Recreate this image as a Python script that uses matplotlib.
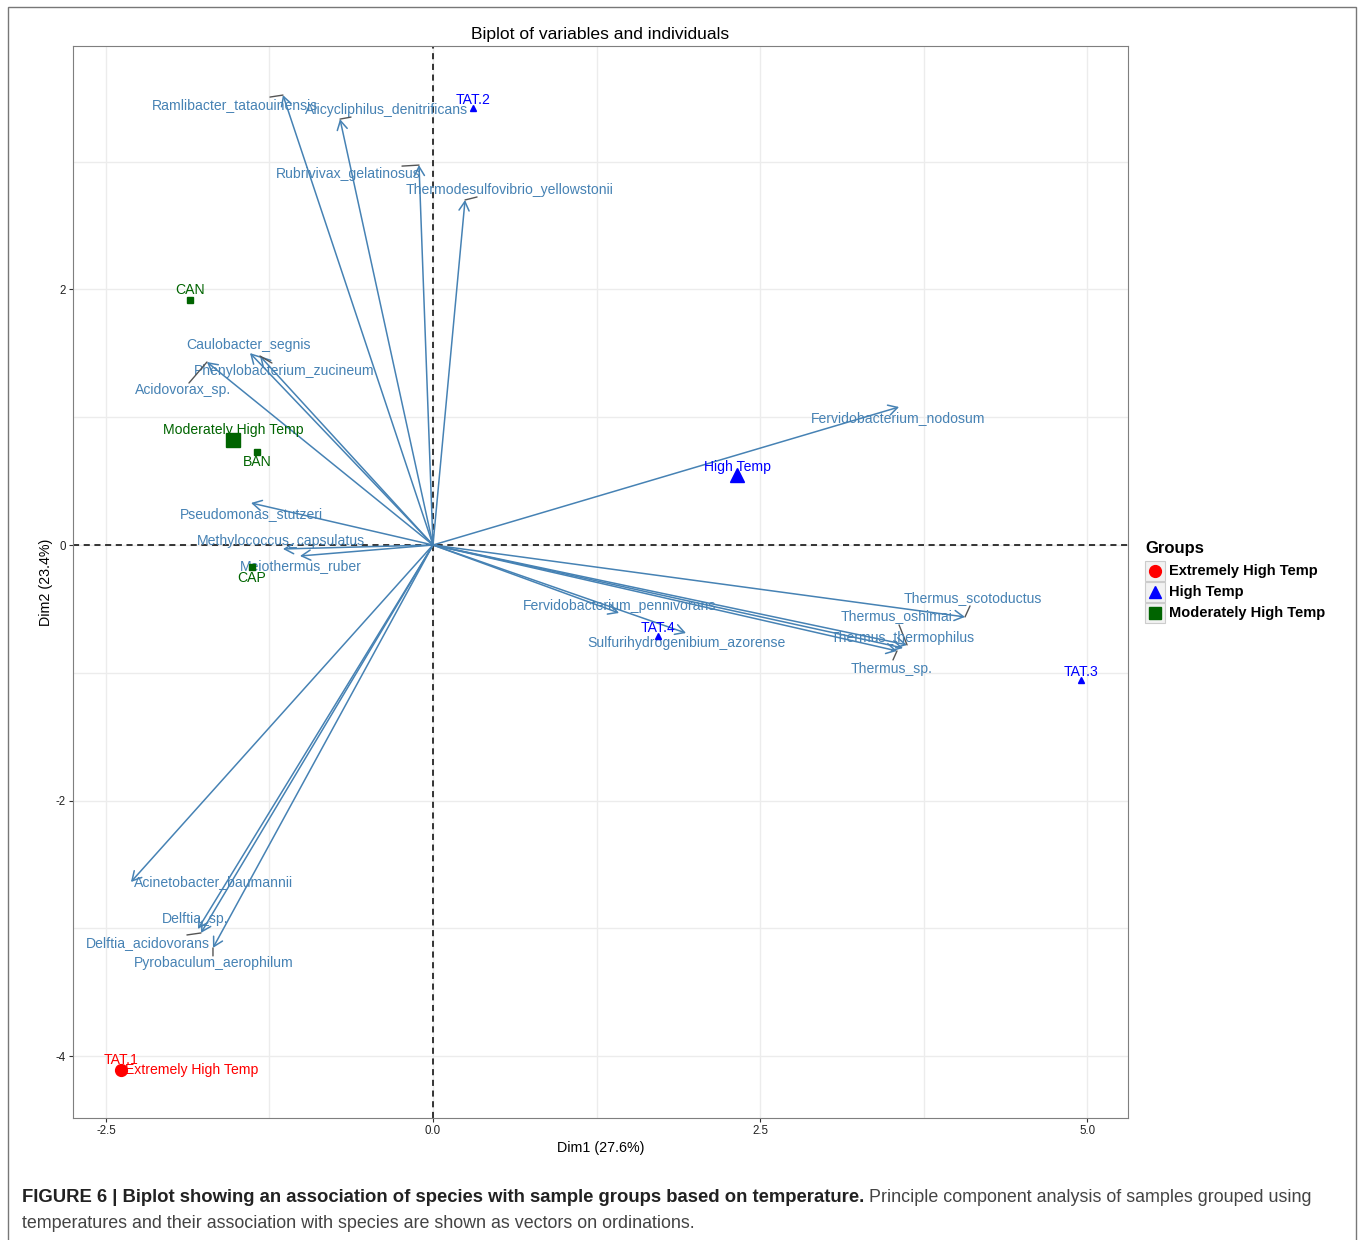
import matplotlib.pyplot as plt
import numpy as np
from matplotlib.patches import Rectangle
from matplotlib.lines import Line2D

plt.rcParams['font.family'] = ['Liberation Sans', 'DejaVu Sans']
plt.rcParams['axes.unicode_minus'] = False

# variable loadings (arrow tips)
var_names = ['Ramlibacter_tataouinensis', 'Alicycliphilus_denitrificans',
             'Rubrivivax_gelatinosus', 'Thermodesulfovibrio_yellowstonii',
             'Caulobacter_segnis', 'Phenylobacterium_zucineum', 'Acidovorax_sp.',
             'Pseudomonas_stutzeri', 'Methylococcus_capsulatus', 'Meiothermus_ruber',
             'Fervidobacterium_nodosum', 'Thermus_scotoductus', 'Thermus_oshimai',
             'Thermus_thermophilus', 'Thermus_sp.', 'Fervidobacterium_pennivorans',
             'Sulfurihydrogenibium_azorense', 'Acinetobacter_baumannii',
             'Delftia_sp.', 'Delftia_acidovorans', 'Pyrobaculum_aerophilum']
var_x = [-1.147, -0.711, -0.107, 0.245, -1.399, -1.323, -1.728, -1.391, -1.147,
         -1.017, 3.563, 4.067, 3.624, 3.593, 3.547, 1.422, 1.934, -2.309,
         -1.797, -1.774, -1.682]
var_y = [3.521, 3.333, 2.973, 2.700, 1.502, 1.479, 1.432, 0.329, -0.031,
         -0.086, 1.080, -0.563, -0.782, -0.806, -0.829, -0.532, -0.689, -2.637,
         -3.005, -3.036, -3.153]

# individuals
ind_names = ['TAT.1', 'TAT.2', 'TAT.3', 'TAT.4', 'CAN', 'BAN', 'CAP']
ind_x = [-2.385, 0.306, 4.954, 1.720, -1.858, -1.346, -1.384]
ind_y = [-4.108, 3.420, -1.056, -0.712, 1.917, 0.728, -0.172]
ind_group = ['Extremely High Temp', 'High Temp', 'High Temp', 'High Temp',
             'Moderately High Temp', 'Moderately High Temp', 'Moderately High Temp']

groups = ['Extremely High Temp', 'High Temp', 'Moderately High Temp']
group_colors = ['#FF0000', '#0000FF', '#006400']
group_markers = ['o', '^', 's']

# label placement (pixel offsets from the point, y down) and repel segments
var_label_off = [(-48, 10), (47, -9), (-71, 9), (45, -10), (-1, -8), (24, 15),
                 (-24, 28), (0, 11), (-2, -8), (1, 10), (-1, 11), (8, -19),
                 (-10, -29), (0, -10), (-5, 18), (1, -7), (0, 10), (83, 0),
                 (-3, -10), (-53, 10), (1, 15)]
var_seg_off = [(-13, 2), (11, -2), (-17, 1), (12, -3), None, (12, 7),
               (-18, 21), None, None, None, None, (5, -11),
               (-8, -20), None, (-4, 9), None, None, None,
               None, (-14, 2), (0, 8)]
ind_label_off = [(0, -10), (0, -8), (0, -8), (0, -8), (0, -10), (0, 10), (0, 11)]
group_label_off = [(71, 0), (0, -8), (0, -10)]

steel = '#4682B4'
lab_fs = 10.1

fig = plt.figure(figsize=(13.6, 12.4), dpi=100)
ax = fig.add_axes([73 / 1360, 1 - 1118 / 1240, (1128 - 73) / 1360, (1118 - 46) / 1240])

ax.set_xlim(-2.752, 5.313)
ax.set_ylim(-4.484, 3.905)
ax.set_xticks([-2.5, 0, 2.5, 5.0])
ax.set_xticklabels(['-2.5', '0.0', '2.5', '5.0'])
ax.set_yticks([-4, -2, 0, 2])
ax.set_xticks([-1.25, 1.25, 3.75], minor=True)
ax.set_yticks([-3, -1, 1, 3], minor=True)
ax.grid(True, which='both', color='#ECECEC', lw=1.0)
ax.set_axisbelow(True)
ax.tick_params(which='minor', length=0)
ax.tick_params(which='major', length=3, width=0.8, color='#333333',
               labelsize=8.3, labelcolor='#222222', pad=2)
for sp in ax.spines.values():
    sp.set_color('#7F7F7F')
    sp.set_linewidth(0.8)

ax.axhline(0, color='black', ls='--', lw=1.1, dashes=(4, 3), zorder=1)
ax.axvline(0, color='black', ls='--', lw=1.1, dashes=(4, 3), zorder=1)

# variable arrows and labels
for i, name in enumerate(var_names):
    x, y = var_x[i], var_y[i]
    ax.annotate('', xy=(x, y), xytext=(0, 0),
                arrowprops=dict(arrowstyle='->,head_length=0.5,head_width=0.28',
                                color=steel, lw=1.1, shrinkA=0, shrinkB=0,
                                mutation_scale=13), zorder=3)
    dx, dy = var_label_off[i]
    ax.annotate(name, xy=(x, y), xytext=(dx, -dy), textcoords='offset pixels',
                ha='center', va='center', color=steel, fontsize=lab_fs, zorder=4)
    seg = var_seg_off[i]
    if seg is not None:
        ax.annotate('', xy=(x, y), xytext=(seg[0], -seg[1]),
                    textcoords='offset pixels',
                    arrowprops=dict(arrowstyle='-', color='#555555', lw=1.0,
                                    shrinkA=0, shrinkB=0), zorder=4)

# individuals
for i, name in enumerate(ind_names):
    g = groups.index(ind_group[i])
    ax.plot(ind_x[i], ind_y[i], marker=group_markers[g], color=group_colors[g],
            ms=5 if group_markers[g] != 'o' else 4, ls='none', zorder=5)
    dx, dy = ind_label_off[i]
    ax.annotate(name, xy=(ind_x[i], ind_y[i]), xytext=(dx, -dy),
                textcoords='offset pixels', ha='center', va='center',
                color=group_colors[g], fontsize=lab_fs, zorder=6)

# group centroids
for g, grp in enumerate(groups):
    gx = np.mean([ind_x[i] for i in range(len(ind_names)) if ind_group[i] == grp])
    gy = np.mean([ind_y[i] for i in range(len(ind_names)) if ind_group[i] == grp])
    ax.plot(gx, gy, marker=group_markers[g], color=group_colors[g],
            ms=10 if group_markers[g] != 'o' else 8.5, ls='none', zorder=5)
    dx, dy = group_label_off[g]
    ax.annotate(grp, xy=(gx, gy), xytext=(dx, -dy), textcoords='offset pixels',
                ha='center', va='center', color=group_colors[g], fontsize=lab_fs,
                zorder=6)

ax.set_title('Biplot of variables and individuals', fontsize=12.6, pad=5)
ax.set_xlabel('Dim1 (27.6%)', fontsize=10.3, labelpad=3)
ax.set_ylabel('Dim2 (23.4%)', fontsize=10.3, labelpad=2)

# legend drawn in figure pixel space
W, H = 1360, 1240
fig.text(1145 / W, 1 - 548 / H, 'Groups', fontsize=12, fontweight='bold',
         ha='left', va='center')
for g, grp in enumerate(groups):
    yc = 571 + g * 21
    fig.add_artist(Rectangle((1145 / W, 1 - (yc + 10) / H), 20 / W, 20 / H,
                             transform=fig.transFigure, facecolor='#F2F2F2',
                             edgecolor='#CCCCCC', lw=0.8))
    fig.add_artist(Line2D([1155 / W], [1 - yc / H], marker=group_markers[g],
                          color=group_colors[g], ms=9 if g != 0 else 8.5,
                          transform=fig.transFigure))
    fig.text(1169 / W, 1 - yc / H, grp, fontsize=10.5, fontweight='bold',
             ha='left', va='center')

# outer frame and caption
fig.add_artist(Rectangle((8 / W, -0.01), (1356 - 8) / W, 1.01 - 7 / H,
                         transform=fig.transFigure, fill=False,
                         edgecolor='#777777', lw=1.0))
t1 = fig.text(22 / W, 1 - 1197 / H,
              'FIGURE 6 | Biplot showing an association of species with sample '
              'groups based on temperature.',
              fontsize=13.3, fontweight='bold', color='#222222',
              ha='left', va='center')
fig.canvas.draw()
bb = t1.get_window_extent()
fig.text(bb.x1 / W + 5 / W, 1 - 1197 / H,
         'Principle component analysis of samples grouped using',
         fontsize=12.9, color='#444444', ha='left', va='center')
fig.text(22 / W, 1 - 1223 / H,
         'temperatures and their association with species are shown as vectors '
         'on ordinations.', fontsize=12.9, color='#444444', ha='left', va='center')

fig.savefig('out.png', dpi=100)
